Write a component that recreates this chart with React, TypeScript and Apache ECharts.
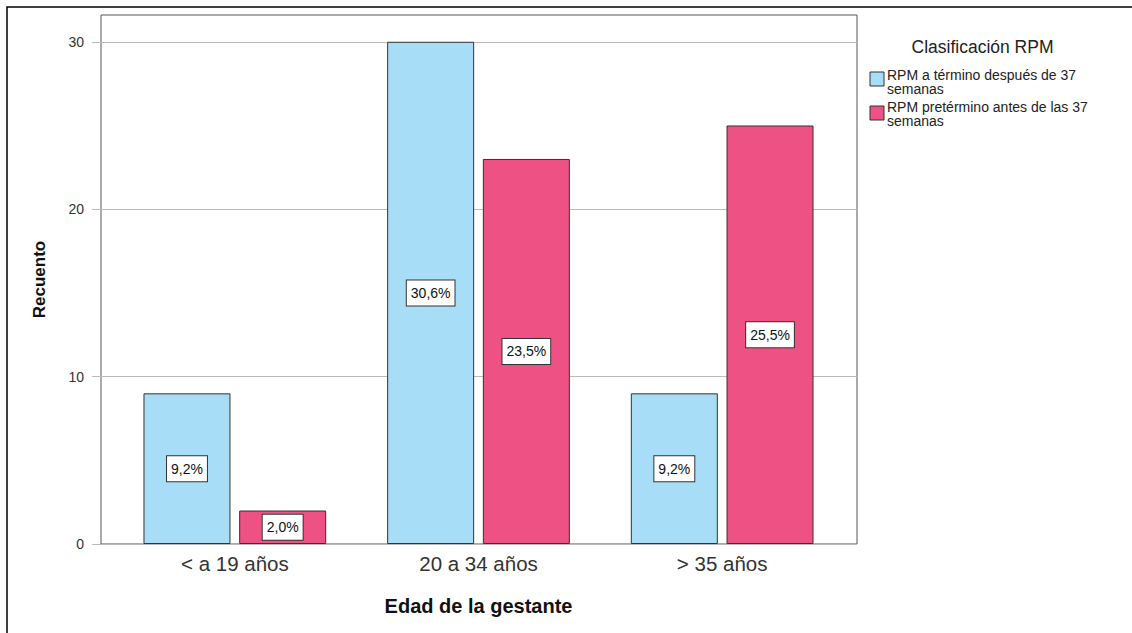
import React, { useEffect, useRef } from "react";
import * as echarts from "echarts";

const categories = ["< a 19 años", "20 a 34 años", "> 35 años"];
const seriesNames = ["RPM a término después de 37\nsemanas", "RPM pretérmino antes de las 37\nsemanas"];
const termino = [9, 30, 9];
const pretermino = [2, 23, 25];
const terminoPct = ["9,2%", "30,6%", "9,2%"];
const preterminoPct = ["2,0%", "23,5%", "25,5%"];
const yTicks = [0, 10, 20, 30];
const legendTitle = "Clasificación RPM";
const xTitle = "Edad de la gestante";
const yTitle = "Recuento";

const FONT = "'Liberation Sans', Arial, sans-serif";
const COLORS = ["#a8ddf7", "#ee5285"];

export default function App() {
  const ref = useRef<HTMLDivElement>(null);
  useEffect(() => {
    if (!ref.current) return;
    const chart = echarts.init(ref.current, undefined, { renderer: "svg" });
    const yMax = 31.6;
    const labelStyle = (pcts: string[]) => ({
      show: true,
      position: "inside",
      formatter: (p: any) => pcts[p.dataIndex],
      fontFamily: FONT,
      fontSize: 14,
      lineHeight: 15,
      color: "#111",
      backgroundColor: "#fff",
      borderColor: "#333",
      borderWidth: 1,
      padding: [5, 4, 5, 4],
    });
    const legendItems: any[] = [];
    const boxTops = [72, 106];
    const textTops = [68, 100];
    seriesNames.forEach((n, i) => {
      legendItems.push({
        type: "rect",
        shape: { x: 870, y: boxTops[i], width: 14, height: 14 },
        style: { fill: COLORS[i], stroke: "#333", lineWidth: 1 },
      });
      legendItems.push({
        type: "text",
        x: 887,
        y: textTops[i],
        style: {
          text: n,
          font: `14px ${FONT}`,
          fill: "#222",
          lineHeight: 14,
          textVerticalAlign: "top",
        },
      });
    });
    chart.setOption({
      animation: false,
      backgroundColor: "#fff",
      grid: [
        { left: 101, top: 15, width: 756, height: 529, show: true, borderColor: "#555", borderWidth: 1, backgroundColor: "transparent" },
        { left: 113, top: 15, width: 731, height: 529, show: false },
      ],
      xAxis: [
        { type: "category", gridIndex: 0, data: categories, show: false },
        {
          type: "category",
          gridIndex: 1,
          data: categories,
          axisLine: { show: false },
          axisTick: { show: false },
          axisLabel: { fontFamily: FONT, fontSize: 20.5, color: "#333", margin: 9 },
          name: xTitle,
          nameLocation: "middle",
          nameGap: 52,
          nameTextStyle: { fontFamily: FONT, fontSize: 20, fontWeight: "bold", color: "#111" },
        },
      ],
      yAxis: [
        {
          type: "value",
          gridIndex: 0,
          min: 0,
          max: yMax,
          interval: 10,
          axisLine: { show: false },
          axisTick: { show: true, length: 9, lineStyle: { color: "#bbb" }, customValues: yTicks },
          splitLine: { show: true, lineStyle: { color: "#bbb", width: 1 } },
          axisLabel: {
            fontFamily: FONT,
            fontSize: 14,
            color: "#333",
            margin: 17,
            customValues: yTicks,
          },
          name: yTitle,
          nameLocation: "middle",
          nameGap: 53,
          nameRotate: 90,
          nameTextStyle: { fontFamily: FONT, fontSize: 17, fontWeight: "bold", color: "#111" },
        },
        { type: "value", gridIndex: 1, min: 0, max: yMax, show: false, splitLine: { show: false } },
      ],
      series: [
        {
          name: seriesNames[0],
          type: "bar",
          xAxisIndex: 1,
          yAxisIndex: 1,
          data: termino,
          barWidth: 87,
          barGap: "10%",
          itemStyle: { color: COLORS[0], borderColor: "#333", borderWidth: 1 },
          label: labelStyle(terminoPct),
        },
        {
          name: seriesNames[1],
          type: "bar",
          xAxisIndex: 1,
          yAxisIndex: 1,
          data: pretermino,
          barWidth: 87,
          barGap: "10%",
          itemStyle: { color: COLORS[1], borderColor: "#333", borderWidth: 1 },
          label: labelStyle(preterminoPct),
        },
      ],
      graphic: [
        {
          type: "rect",
          shape: { x: 7, y: 7, width: 1200, height: 700 },
          style: { fill: "none", stroke: "#000", lineWidth: 1.5 },
          silent: true,
        },
        {
          type: "text",
          x: 982.5,
          y: 47,
          style: {
            text: legendTitle,
            font: `17.5px ${FONT}`,
            fill: "#222",
            textAlign: "center",
            textVerticalAlign: "middle",
          },
        },
        ...legendItems,
      ],
    });
    return () => chart.dispose();
  }, []);
  return (
    <div
      ref={ref}
      style={{ position: "fixed", left: 0, top: 0, width: 1132, height: 633, background: "#fff" }}
    />
  );
}
